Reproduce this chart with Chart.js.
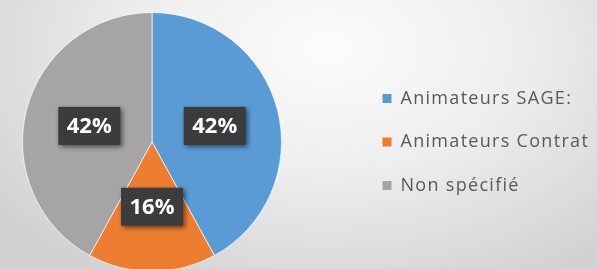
<!DOCTYPE html>
<html>
<head>
<meta charset="utf-8">
<script src="https://cdn.jsdelivr.net/npm/chart.js@4/dist/chart.umd.min.js"></script>
<style>
  html, body { margin: 0; padding: 0; width: 597px; height: 269px; overflow: hidden; }
  #wrap {
    position: absolute; left: 0; top: 0; width: 597px; height: 269px; overflow: hidden;
    background: radial-gradient(70% 100% at 55% 18%, #fcfcfc 0%, #eeeeee 45%, #d1d1d1 100%);
  }
  canvas { position: absolute; left: 0; top: 0; }
</style>
</head>
<body>
<div id="wrap"><canvas id="c" width="597" height="286"></canvas></div>
<script>
// ---- data ----
const categories = ["Animateurs SAGE:", "Animateurs Contrat", "Non spécifié"];
const shares = [42, 16, 42];
const valueLabels = ["42%", "16%", "42%"];
const sliceColors = ["#5B9BD5", "#ED7D31", "#A5A5A5"];

// ---- layout constants ----
const PIE_LEFT = 22, PIE_RIGHT = 282;
const LEGEND_LEFT = 357;
const LEGEND_PAD = 25.5;

// dotted texture for the label boxes
function makePattern(ctx) {
  const p = document.createElement('canvas');
  p.width = 4; p.height = 4;
  const g = p.getContext('2d');
  g.fillStyle = '#3a3a3a'; g.fillRect(0, 0, 4, 4);
  g.fillStyle = '#4a4a4a'; g.fillRect(1, 1, 1, 1);
  g.fillStyle = '#434343'; g.fillRect(3, 3, 1, 1);
  return ctx.createPattern(p, 'repeat');
}

const layoutPlugin = {
  id: 'layoutFix',
  afterLayout(chart) {
    const ca = chart.chartArea;
    ca.left = PIE_LEFT; ca.right = PIE_RIGHT; ca.width = PIE_RIGHT - PIE_LEFT;
    const lg = chart.legend;
    lg.left = LEGEND_LEFT; lg.right = chart.width; lg.width = chart.width - LEGEND_LEFT;
  },
  beforeDraw(chart) {
    chart.ctx.letterSpacing = '1.3px';
  }
};

const labelPlugin = {
  id: 'boxLabels',
  afterDatasetsDraw(chart) {
    const ctx = chart.ctx;
    ctx.save();
    ctx.letterSpacing = '0px';
    const pattern = makePattern(ctx);
    const meta = chart.getDatasetMeta(0);
    meta.data.forEach((arc, i) => {
      const pos = arc.tooltipPosition();
      const w = 62, h = 38;
      ctx.save();
      ctx.shadowColor = 'rgba(0,0,0,0.55)';
      ctx.shadowBlur = 5;
      ctx.shadowOffsetX = 2;
      ctx.shadowOffsetY = 2;
      ctx.fillStyle = pattern;
      ctx.fillRect(pos.x - w / 2, pos.y - h / 2, w, h);
      ctx.restore();
      ctx.fillStyle = '#ffffff';
      ctx.font = "bold 22px 'Open Sans'";
      ctx.textAlign = 'center';
      ctx.textBaseline = 'middle';
      ctx.fillText(valueLabels[i], pos.x, pos.y + 1);
    });
    ctx.restore();
  }
};

new Chart(document.getElementById('c'), {
  type: 'pie',
  data: {
    labels: categories,
    datasets: [{
      data: shares,
      backgroundColor: sliceColors,
      borderColor: 'rgba(255,255,255,0.7)',
      borderWidth: 1,
      hoverOffset: 0,
      offset: 0
    }]
  },
  options: {
    responsive: false,
    animation: false,
    events: [],
    layout: { padding: { top: 12, bottom: 14, left: 22, right: 10 } },
    plugins: {
      tooltip: { enabled: false },
      legend: {
        position: 'right',
        align: 'center',
        labels: {
          boxWidth: 9,
          boxHeight: 9,
          padding: LEGEND_PAD,
          color: '#595959',
          font: { family: "'Open Sans'", size: 18 },
          generateLabels(chart) {
            const base = Chart.overrides.pie.plugins.legend.labels.generateLabels(chart);
            return base.map(l => Object.assign({}, l, { lineWidth: 0, strokeStyle: 'rgba(0,0,0,0)' }));
          }
        }
      }
    }
  },
  plugins: [layoutPlugin, labelPlugin]
});
</script>
</body>
</html>
